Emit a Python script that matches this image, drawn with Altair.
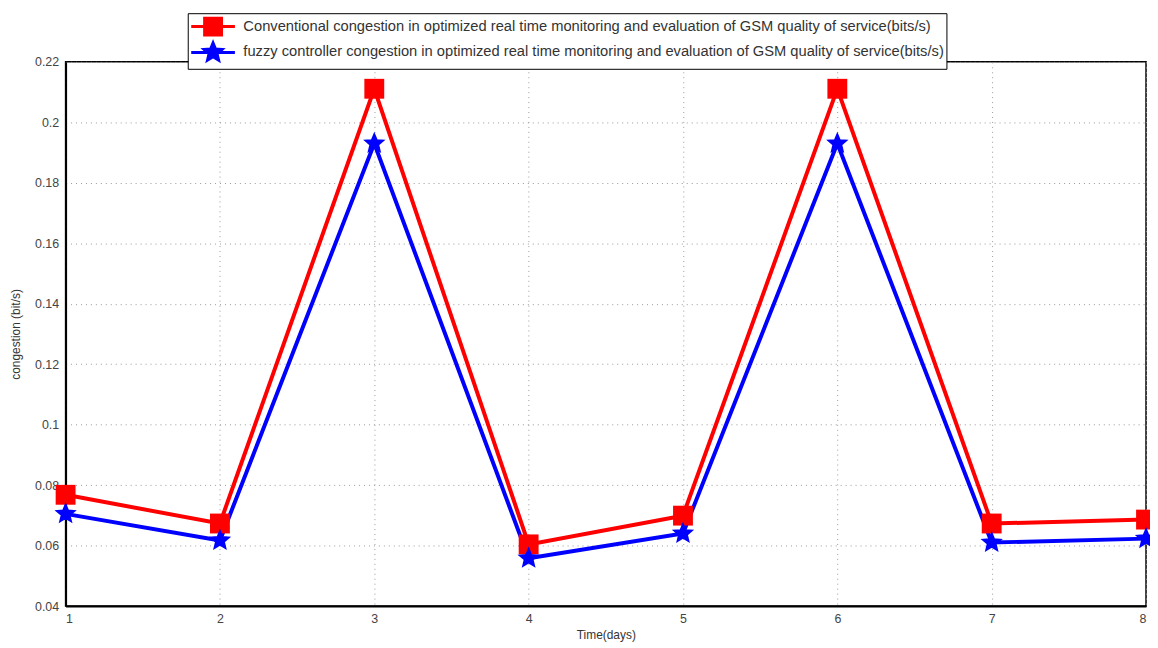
import math
import altair as alt
import pandas as pd

days = [1, 2, 3, 4, 5, 6, 7, 8]
conventional = [0.0768, 0.0673, 0.2111, 0.0604, 0.0699, 0.2111, 0.0673, 0.0686]
fuzzy = [0.0705, 0.0617, 0.1930, 0.0558, 0.0640, 0.1930, 0.0610, 0.0623]
series_names = [
    "Conventional congestion in optimized real time monitoring and evaluation of GSM quality of service(bits/s)",
    "fuzzy controller congestion in optimized real time monitoring and evaluation of GSM quality of service(bits/s)",
]
colors = ["#ff0000", "#0000ff"]
y_ticks = [0.04, 0.06, 0.08, 0.1, 0.12, 0.14, 0.16, 0.18, 0.2, 0.22]

rows = []
for name, vals in zip(series_names, [conventional, fuzzy]):
    for d, v in zip(days, vals):
        rows.append({"day": d, "value": v, "series": name})
df = pd.DataFrame(rows)


def star_path(scale=1.0, cx=0.0):
    pts = []
    for i in range(10):
        ang = math.radians(-90 + 36 * i)
        r = 1.0 if i % 2 == 0 else 0.45
        pts.append((cx + r * math.cos(ang) * scale, r * math.sin(ang) * scale))
    return "M" + "L".join(f"{x:.3f},{y:.3f}" for x, y in pts) + "Z"


square_path = "M-1,-1L1,-1L1,1L-1,1Z"
# legend glyphs: a line stub with the marker in its middle (units of 10px at symbolSize 400)
legend_square = "M-1,0L3.4,0M0.35,-0.85L2.05,-0.85L2.05,0.85L0.35,0.85Z"
legend_star = "M-1,0L3.4,0" + star_path(0.95, 1.2)

x_enc = alt.X("day:Q", scale=alt.Scale(domain=[1, 8], nice=False),
              axis=alt.Axis(title="Time(days)", values=days, format="d", grid=True))
y_enc = alt.Y("value:Q", scale=alt.Scale(domain=[0.04, 0.22], nice=False),
              axis=alt.Axis(title="congestion (bit/s)", values=y_ticks, format=".2~f", grid=True))

base = alt.Chart(df)
red = base.transform_filter(alt.datum.series == series_names[0])
blue = base.transform_filter(alt.datum.series == series_names[1])

red_line = red.mark_line(strokeWidth=4, color=colors[0]).encode(x=x_enc, y=y_enc)
blue_line = blue.mark_line(strokeWidth=4, color=colors[1]).encode(x="day:Q", y="value:Q")

red_pts = red.mark_point(
    shape=square_path, size=400, filled=True, color=colors[0], opacity=1
).encode(x="day:Q", y="value:Q")

blue_pts = blue.mark_point(
    shape=star_path(), size=340, filled=True, color=colors[1], opacity=1,
    stroke=colors[1], strokeWidth=2
).encode(x="day:Q", y="value:Q")

legend_def = alt.Legend(
    title=None, orient="none", legendX=123, legendY=-49,
    strokeColor="black", fillColor="white", padding=2,
    labelFont="Liberation Sans", labelFontSize=14.8, labelColor="#333",
    symbolSize=400, symbolOpacity=1, symbolStrokeWidth=3,
    rowPadding=-40, labelLimit=1000, labelOffset=31,
)

legend_layer = base.mark_point(filled=True, opacity=0).encode(
    x="day:Q", y="value:Q",
    fill=alt.Fill("series:N", scale=alt.Scale(domain=series_names, range=colors), legend=legend_def),
    stroke=alt.Stroke("series:N", scale=alt.Scale(domain=series_names, range=colors), legend=legend_def),
    shape=alt.Shape("series:N", scale=alt.Scale(domain=series_names, range=[legend_square, legend_star]),
                    legend=legend_def),
)

chart = alt.layer(red_line, blue_line, red_pts, blue_pts, legend_layer).properties(
    width=1088, height=548,
    autosize=alt.AutoSizeParams(type="none"),
    padding={"left": 58, "top": 52, "right": 4, "bottom": 38},
).configure_view(
    stroke="black", strokeWidth=1.5
).configure_axis(
    labelFont="Liberation Sans", labelFontSize=12.5, labelColor="#444",
    titleFont="Liberation Sans", titleFontSize=12, titleFontWeight="normal", titleColor="#333",
    domainColor="black", domainWidth=2, tickColor="black", tickSize=0,
    gridColor="#999", gridDash=[1, 4], gridWidth=1,
).configure_axisX(titlePadding=4, labelPadding=7).configure_axisY(titlePadding=12, labelPadding=7)

chart.save("out.html", embed_options={"renderer": "svg", "actions": False})
